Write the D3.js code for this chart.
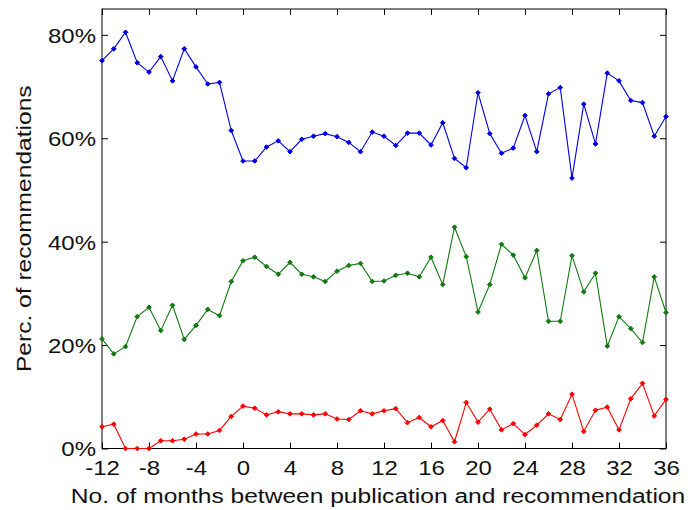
<!DOCTYPE html>
<html>
<head>
<meta charset="utf-8">
<script src="https://cdn.jsdelivr.net/npm/d3@7"></script>
<style>
  html, body { margin: 0; padding: 0; background: #fff; }
  svg { display: block; }
  text { font-family: "Liberation Sans", Arial, sans-serif; fill: #111; }
</style>
</head>
<body>
<svg id="chart" width="689" height="510"></svg>
<script>
// ---- data ----
const months = d3.range(-12, 37);
const xTicks = [-12, -8, -4, 0, 4, 8, 12, 16, 20, 24, 28, 32, 36];
const yTicks = [0, 20, 40, 60, 80];
const blueValues = [75.0, 77.3, 80.5, 74.6, 72.8, 75.8, 71.1, 77.3, 73.8, 70.5, 70.8, 61.5,
  55.6, 55.6, 58.3, 59.5, 57.4, 59.8, 60.4, 60.9, 60.3, 59.2, 57.4, 61.2,
  60.4, 58.6, 61.0, 61.0, 58.7, 63.0, 56.1, 54.3, 68.8, 60.9, 57.1, 58.1,
  64.4, 57.4, 68.6, 69.8, 52.3, 66.6, 58.9, 72.6, 71.1, 67.3, 66.9, 60.4, 64.2];
const greenValues = [21.2, 18.3, 19.7, 25.5, 27.3, 22.8, 27.7, 21.1, 23.8, 26.9, 25.7, 32.3,
  36.3, 37.0, 35.2, 33.7, 36.0, 33.7, 33.2, 32.3, 34.3, 35.4, 35.8, 32.3,
  32.4, 33.5, 33.9, 33.2, 37.0, 31.7, 42.8, 37.1, 26.4, 31.7, 39.5, 37.4,
  33.0, 38.3, 24.6, 24.6, 37.3, 30.3, 33.9, 19.8, 25.5, 23.2, 20.5, 33.2, 26.3];
const redValues = [4.2, 4.7, 0.0, 0.0, 0.0, 1.5, 1.5, 1.8, 2.8, 2.8, 3.5, 6.2,
  8.2, 7.8, 6.5, 7.1, 6.7, 6.7, 6.5, 6.7, 5.7, 5.6, 7.3, 6.7,
  7.3, 7.7, 5.0, 6.0, 4.2, 5.4, 1.3, 8.9, 5.1, 7.6, 3.6, 4.8,
  2.7, 4.5, 6.7, 5.6, 10.5, 3.3, 7.4, 8.0, 3.6, 9.6, 12.6, 6.3, 9.5];
const seriesNames = ["blue", "green", "red"];
const seriesColors = ["#0000e0", "#107a10", "#ff0000"];
const xLabel = "No. of months between publication and recommendation";
const yLabel = "Perc. of recommendations";

// ---- layout ----
const L = 102, R = 666, T = 9, B = 448.5;
const svg = d3.select("#chart");
const x = d3.scaleLinear().domain([-12, 36]).range([L, R]);
const y = d3.scaleLinear().domain([0, 85]).range([B, T]);
const SX = 1.17;

// box
svg.append("rect").attr("x", L).attr("y", T).attr("width", R - L).attr("height", B - T)
  .attr("fill", "none").attr("stroke", "#000").attr("stroke-width", 1);

// axes
const gx = svg.append("g").attr("transform", `translate(0,${B})`)
  .call(d3.axisBottom(x).tickValues(xTicks).tickSizeInner(-6).tickSizeOuter(0).tickPadding(10).tickFormat(d => String(d)));
const gxTop = svg.append("g").attr("transform", `translate(0,${T})`)
  .call(d3.axisTop(x).tickValues(xTicks).tickSizeInner(-6).tickSizeOuter(0).tickFormat(""));
const gy = svg.append("g").attr("transform", `translate(${L},0)`)
  .call(d3.axisLeft(y).tickValues(yTicks).tickSizeInner(-6).tickSizeOuter(0).tickPadding(7).tickFormat(d => d + "%"));
const gyR = svg.append("g").attr("transform", `translate(${R},0)`)
  .call(d3.axisRight(y).tickValues(yTicks).tickSizeInner(-6).tickSizeOuter(0).tickFormat(""));
[gx, gxTop, gy, gyR].forEach(g => {
  g.select(".domain").remove();
  g.selectAll(".tick line").attr("stroke", "#000");
});
gx.selectAll(".tick text").attr("font-size", 20.5).attr("fill", "#111")
  .attr("transform", `scale(${SX},1)`).attr("dy", "0.8em");
gy.selectAll(".tick text").attr("font-size", 20.5).attr("fill", "#111")
  .attr("x", -6 / SX).attr("transform", `scale(${SX},1)`).attr("dy", "0.36em");

// labels
svg.append("text").attr("transform", `translate(${(L + R) / 2 - 6},503) scale(${SX},1)`)
  .attr("text-anchor", "middle").attr("font-size", 21).text(xLabel);
svg.append("text").attr("transform", `translate(31,${(T + B) / 2}) rotate(-90) scale(${SX},1)`)
  .attr("text-anchor", "middle").attr("font-size", 21).text(yLabel);

// series
const allSeries = [blueValues, greenValues, redValues];
const line = d3.line().x((d, i) => x(months[i])).y(d => y(d));
const sym = d3.symbol().type(d3.symbolDiamond2).size(14);
allSeries.forEach((vals, k) => {
  const g = svg.append("g").attr("class", "series-" + seriesNames[k]);
  g.append("path").datum(vals).attr("d", line).attr("fill", "none")
    .attr("stroke", seriesColors[k]).attr("stroke-width", 1.1);
  g.selectAll("path.m").data(vals).join("path").attr("class", "m")
    .attr("transform", (d, i) => `translate(${x(months[i])},${y(d)})`)
    .attr("d", sym).attr("fill", seriesColors[k]).attr("stroke", seriesColors[k]).attr("stroke-width", 1);
});
</script>
</body>
</html>
